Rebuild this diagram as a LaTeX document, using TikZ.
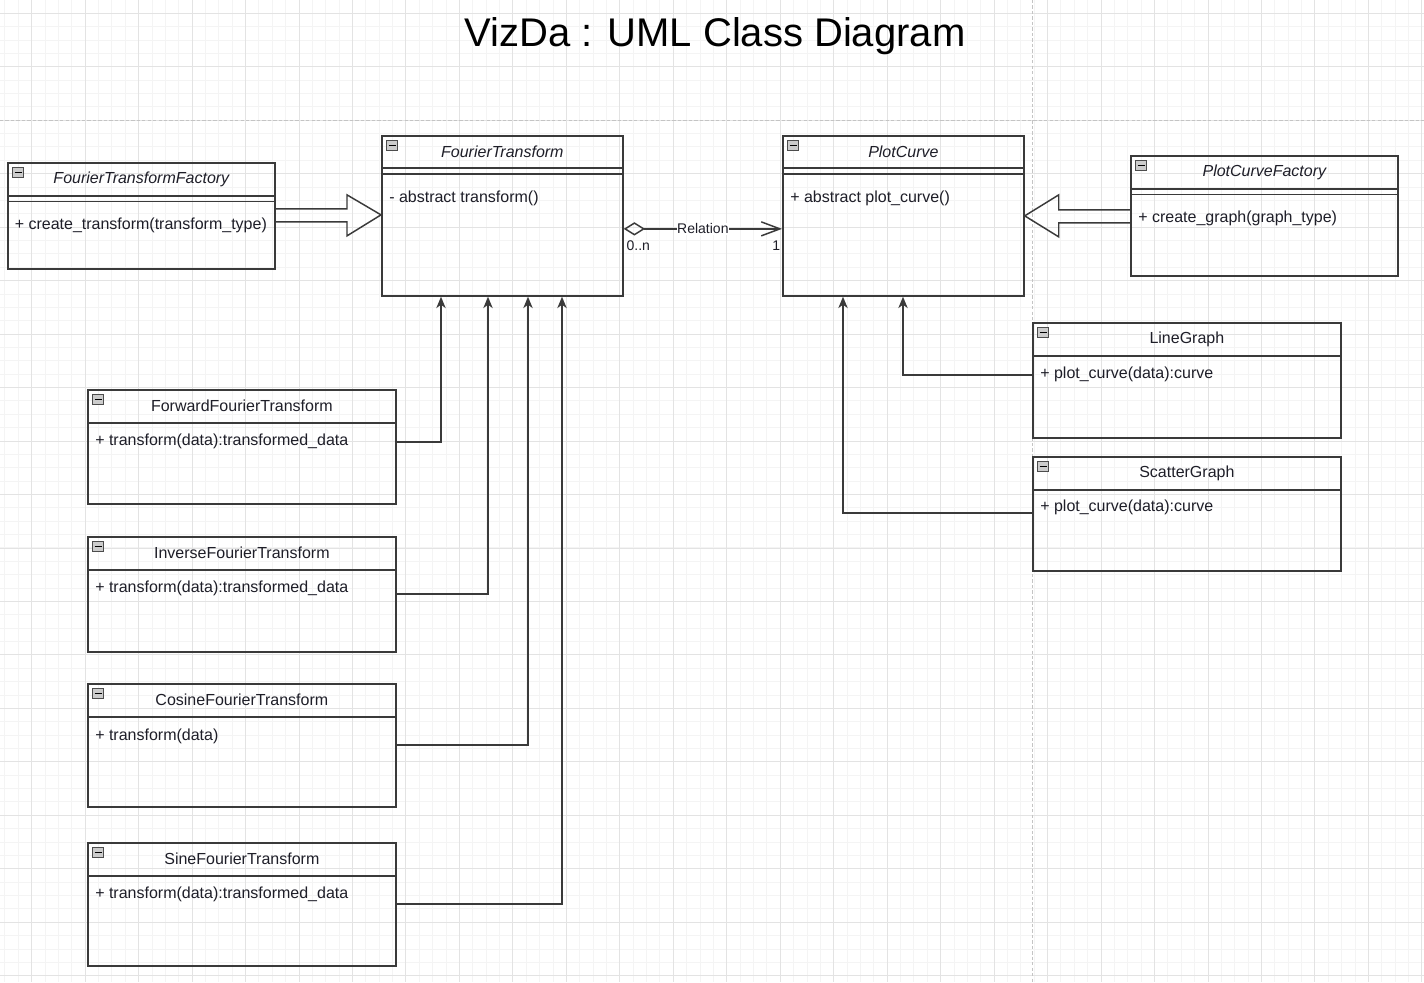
\documentclass[tikz,border=0pt]{standalone}
\usepackage{fontspec}
\setmainfont{Liberation Sans}
\usetikzlibrary{arrows.meta,calc}
\newdimen\px \px=0.75pt
\definecolor{gridminor}{HTML}{F4F4F4}
\definecolor{gridmajor}{HTML}{E3E3E3}
\definecolor{pagebreak}{HTML}{C4C4C4}
\definecolor{boxline}{HTML}{3A3A3A}
\definecolor{txt}{HTML}{1E1E28}
\newcommand\classframe[8]{%
  \node[cls, minimum width=#4\px, minimum height=#5\px] (#1) at (#2,#3) {};
  \draw[sep] ($(#1.north west)+(0,#6)$) -- ($(#1.north east)+(0,#6)$);
  \node[icon] (#1-icon) at ($(#1.north west)+(11,10.5)$) {};
  \node[clstitle,#7] (#1-title) at ($(#1.north)+(0,#6/2)$) {#8};
}
\begin{document}
\begin{tikzpicture}[x=0.75pt, y=-0.75pt,
  cls/.style={draw=boxline, line width=1.3pt, rectangle, inner sep=0pt, anchor=north west},
  sep/.style={draw=boxline, line width=1.3pt},
  clstitle/.style={font=\fontsize{12}{14}\selectfont, text=txt, inner sep=0pt},
  meth/.style={font=\fontsize{12}{14}\selectfont, text=txt, inner sep=0pt, anchor=west},
  icon/.style={draw=gray!60!black, fill=gray!40, minimum width=11\px, minimum height=9.5\px, inner sep=0pt, line width=0.5pt,
    path picture={\draw[black, line width=1.4pt] ([xshift=2\px]path picture bounding box.west) -- ([xshift=-2\px]path picture bounding box.east);}},
  inherit/.style={draw=boxline, line width=1.1pt, -{Stealth[length=8.5pt, width=7pt, inset=2.5pt]}},
  blockarrow/.style={draw=boxline, line width=1.1pt, line join=miter},
  assoc/.style={draw=boxline, line width=1.1pt},
  smalllabel/.style={font=\fontsize{10.5}{12}\selectfont, text=txt, inner sep=0.5pt},
  minorline/.style={draw=gridminor, line width=0.75pt},
  majorline/.style={draw=gridmajor, line width=0.75pt},
  breakline/.style={draw=pagebreak, line width=1pt, dash pattern=on 2.5pt off 1.6pt}
]
\useasboundingbox (0,0) rectangle (1424,982);
\fill[white] (0,0) rectangle (1424,982);
% grid
\foreach \i in {0,...,106} { \draw[minorline] ({4.97+13.367*\i},0) -- ({4.97+13.367*\i},982); }
\foreach \j in {0,...,73} { \draw[minorline] (0,{13.367*\j-0.07}) -- (1424,{13.367*\j-0.07}); }
\foreach \i in {0,...,26} { \draw[majorline] ({31.7+53.47*\i},0) -- ({31.7+53.47*\i},982); }
\foreach \j in {0,...,18} { \draw[majorline] (0,{13.3+53.47*\j}) -- (1424,{13.3+53.47*\j}); }
\draw[breakline] (0,120.5) -- (1424,120.5);
\draw[breakline] (1032.3,0) -- (1032.3,982);

% title
\node[font=\fontsize{30}{36}\selectfont, text=black, inner sep=0pt] (title) at (715,36) {VizDa : UML Class Diagram};

% classes
\classframe{ftf}{7}{162}{267}{106}{34}{font=\fontsize{12}{14}\selectfont\itshape}{FourierTransformFactory}
\draw[sep] ($(ftf.north west)+(0,39.5)$) -- ($(ftf.north east)+(0,39.5)$);
\node[meth] (ftf-m) at ($(ftf.north west)+(7.5,63)$) {+ create\_transform(transform\_type)};

\classframe{ft}{381}{135}{241}{160}{33}{font=\fontsize{12}{14}\selectfont\itshape}{FourierTransform}
\draw[sep] ($(ft.north west)+(0,39)$) -- ($(ft.north east)+(0,39)$);
\node[meth] (ft-m) at ($(ft.north west)+(8,63)$) {- abstract transform()};

\classframe{pc}{782}{135}{241}{160}{33}{font=\fontsize{12}{14}\selectfont\itshape}{PlotCurve}
\draw[sep] ($(pc.north west)+(0,39)$) -- ($(pc.north east)+(0,39)$);
\node[meth] (pc-m) at ($(pc.north west)+(8,63)$) {+ abstract plot\_curve()};

\classframe{pcf}{1130}{155}{267}{120}{34}{font=\fontsize{12}{14}\selectfont\itshape}{PlotCurveFactory}
\draw[sep] ($(pcf.north west)+(0,39.5)$) -- ($(pcf.north east)+(0,39.5)$);
\node[meth] (pcf-m) at ($(pcf.north west)+(8,63)$) {+ create\_graph(graph\_type)};

\classframe{fwd}{87}{389}{308}{114}{34}{}{ForwardFourierTransform}
\node[meth] (fwd-m) at ($(fwd.north west)+(8,52)$) {+ transform(data):transformed\_data};

\classframe{inv}{87}{536}{308}{115}{34}{}{InverseFourierTransform}
\node[meth] (inv-m) at ($(inv.north west)+(8,52)$) {+ transform(data):transformed\_data};

\classframe{cos}{87}{683}{308}{123}{34}{}{CosineFourierTransform}
\node[meth] (cos-m) at ($(cos.north west)+(8,53)$) {+ transform(data)};

\classframe{sin}{87}{842}{308}{123}{34}{}{SineFourierTransform}
\node[meth] (sin-m) at ($(sin.north west)+(8,52)$) {+ transform(data):transformed\_data};

\classframe{lg}{1032}{322}{308}{115}{34}{}{LineGraph}
\node[meth] (lg-m) at ($(lg.north west)+(8,52)$) {+ plot\_curve(data):curve};

\classframe{sg}{1032}{456}{308}{114}{34}{}{ScatterGraph}
\node[meth] (sg-m) at ($(sg.north west)+(8,51)$) {+ plot\_curve(data):curve};

% block arrows (factories)
\draw[blockarrow] ($(ftf.east)+(0,-7)$) -- ($(ft.west)+(-34,-7)$) -- ($(ft.west)+(-34,-21)$)
  -- ($(ft.west)+(0,-1)$) -- ($(ft.west)+(-34,20)$) -- ($(ft.west)+(-34,6)$) -- ($(ftf.east)+(0,6)$);
\draw[blockarrow] ($(pcf.west)+(0,-6)$) -- ($(pc.east)+(34,-6)$) -- ($(pc.east)+(34,-21)$)
  -- ($(pc.east)+(0,0)$) -- ($(pc.east)+(34,21)$) -- ($(pc.east)+(34,7)$) -- ($(pcf.west)+(0,7)$);

% aggregation relation
\draw[assoc, {Diamond[open, length=16pt, width=10pt]}-{Straight Barb[length=14pt, width=10.5pt, line width=1.1pt]}]
  ($(ft.east)+(0,13)$) -- node[smalllabel, fill=white] (rel) {Relation} ($(pc.west)+(0,13)$);
\node[smalllabel, anchor=west] (mult0) at ($(ft.east)+(2,30)$) {0..n};
\node[smalllabel, anchor=east] (mult1) at ($(pc.west)+(-1,30)$) {1};

% inheritance
\draw[inherit] ($(fwd.east)+(0,-5)$) -| ($(ft.south west)+(60,0)$);
\draw[inherit] ($(inv.east)+(0,-0.5)$) -| ($(ft.south west)+(107,0)$);
\draw[inherit] ($(cos.east)+(0,-0.5)$) -| ($(ft.south west)+(147,0)$);
\draw[inherit] ($(sin.east)+(0,-0.5)$) -| ($(ft.south west)+(181,0)$);
\draw[inherit] ($(lg.west)+(0,-5.5)$) -| ($(pc.south west)+(121,0)$);
\draw[inherit] ($(sg.west)+(0,-1)$) -| ($(pc.south west)+(61,0)$);
\end{tikzpicture}
\end{document}
